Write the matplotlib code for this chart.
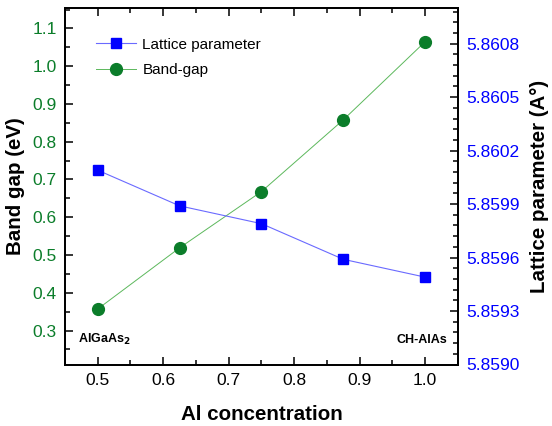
import matplotlib
matplotlib.use("Agg")
import matplotlib.pyplot as plt
from matplotlib.ticker import MultipleLocator

plt.rcParams['font.family'] = ['Liberation Sans', 'DejaVu Sans']

#-----------------------------------#
al_conc = [0.5, 0.625, 0.75, 0.875, 1.0]
band_gap = [0.357, 0.519, 0.668, 0.858, 1.065]          # eV
lattice = [5.86009, 5.85989, 5.85979, 5.85959, 5.85949]  # Angstrom
x_ticks = [0.5, 0.6, 0.7, 0.8, 0.9, 1.0]
gap_ticks = [0.3, 0.4, 0.5, 0.6, 0.7, 0.8, 0.9, 1.0, 1.1]
lat_ticks = [5.8590, 5.8593, 5.8596, 5.8599, 5.8602, 5.8605, 5.8608]
#-----------------------------------#

green = '#0b7d2a'
blue = '#0000ff'

fig = plt.figure(figsize=(5.52, 4.26), dpi=100)
ax = fig.add_axes([65/552, 1 - 364.5/426, (458-65)/552, (364.5-8)/426])
ax2 = ax.twinx()

# band gap on the left axis, lattice parameter on the right one
l2, = ax.plot(al_conc, band_gap, '-', color='#5cb85c', lw=0.7,
              marker='o', ms=8.5, mfc=green, mec=green, label='Band-gap')
l1, = ax2.plot(al_conc, lattice, '-', color='#6a6aff', lw=0.8,
               marker='s', ms=7.6, mfc=blue, mec=blue, label='Lattice parameter')

ax.set_xlim(0.45, 1.05)
ax.set_ylim(0.21, 1.154)
ax2.set_ylim(5.8590, 5.8610)

ax.set_xticks(x_ticks)
ax.set_xticklabels([f'{v:.1f}' for v in x_ticks])
ax.xaxis.set_minor_locator(MultipleLocator(0.05))
ax.set_yticks(gap_ticks)
ax.set_yticklabels([f'{v:.1f}' for v in gap_ticks])
ax.yaxis.set_minor_locator(MultipleLocator(0.05))
ax2.set_yticks(lat_ticks)
ax2.set_yticklabels([f'{v:.4f}' for v in lat_ticks])
ax2.yaxis.set_minor_locator(MultipleLocator(0.00006))

ax.tick_params(axis='x', which='both', direction='in', top=True, labelsize=12.5,
               pad=6, width=1.1)
ax.tick_params(axis='y', which='both', direction='in', right=False, labelsize=12.5,
               labelcolor=green, pad=6, width=1.1)
ax2.tick_params(axis='y', which='both', direction='in', labelsize=12.5,
                labelcolor=blue, pad=6, width=1.1)
for a in (ax, ax2):
    a.tick_params(which='major', length=6)
    a.tick_params(which='minor', length=3.5)
    for s in a.spines.values():
        s.set_linewidth(1.3)

ax.set_xlabel('Al concentration', fontsize=14.8, fontweight='bold', labelpad=12)
ax.set_ylabel('Band gap (eV)', fontsize=14.8, fontweight='bold', labelpad=5)
ax2.set_ylabel('Lattice parameter (A°)', fontsize=14.8, fontweight='bold', labelpad=7)

ax.text(0.4695, 0.2675, 'AlGaAs$_\\mathbf{2}$', fontsize=9, fontweight='bold', va='baseline')
ax.text(1.0336, 0.2675, 'CH-AlAs', fontsize=9, fontweight='bold', va='baseline', ha='right')

ax.legend([l1, l2], ['Lattice parameter', 'Band-gap'], loc='upper left',
          bbox_to_anchor=(0.045, 0.955), frameon=False, fontsize=11,
          handlelength=2.6, handletextpad=0.4, labelspacing=0.75)

fig.savefig('out.png', dpi=100)
